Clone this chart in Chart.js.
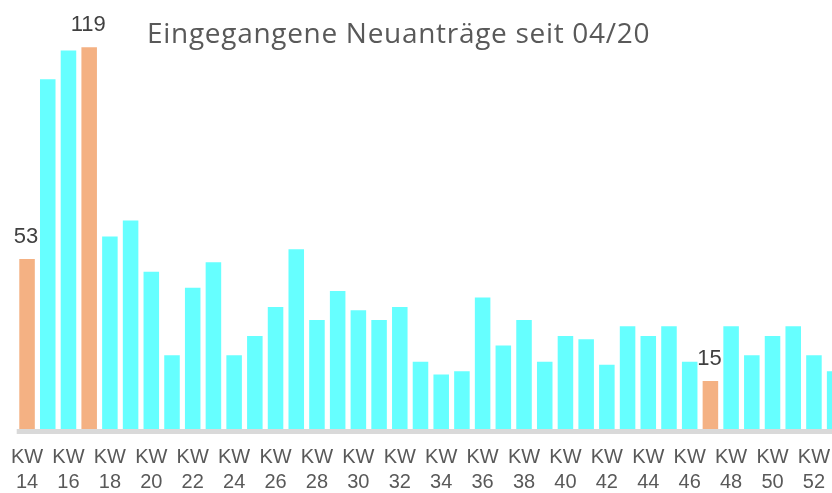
<!DOCTYPE html>
<html>
<head>
<meta charset="utf-8">
<script src="https://cdn.jsdelivr.net/npm/chart.js@4.4.0/dist/chart.umd.min.js"></script>
<style>
    html, body { margin: 0; padding: 0; background: #fff; overflow: hidden; }
    #wrap { position: relative; width: 832px; height: 493px; overflow: hidden; }
    #box { position: absolute; left: 0; top: 0; width: 845px; height: 493px; }
    #title {
        position: absolute; left: 147px; top: 18px;
        font: 28px/1 'Open Sans', sans-serif; color: #595959;
        letter-spacing: 0.7px; white-space: nowrap;
    }
</style>
</head>
<body>
<div id="wrap">
    <div id="box"><canvas id="chart"></canvas></div>
    <div id="title">Eingegangene Neuanträge seit 04/20</div>
</div>
<script>
// Kalenderwochen 14-53
const weeks = ['14', '15', '16', '17', '18', '19', '20', '21', '22', '23',
    '24', '25', '26', '27', '28', '29', '30', '31', '32', '33',
    '34', '35', '36', '37', '38', '39', '40', '41', '42', '43',
    '44', '45', '46', '47', '48', '49', '50', '51', '52', '53'];
const neuantraege = [53, 109, 118, 119, 60, 65, 49, 23, 44, 52,
    23, 29, 38, 56, 34, 43, 37, 34, 38, 21,
    17, 18, 41, 26, 34, 21, 29, 28, 20, 32,
    29, 32, 21, 15, 32, 23, 29, 32, 23, 18];
// weeks that get the orange bar and a value label
const markedWeeks = ['14', '17', '47'];

const cyan = '#66FFFF';
const orange = '#F4B183';

// grey base line under the bars
const baseLine = {
    id: 'baseLine',
    beforeDatasetsDraw(chart) {
        const { ctx, chartArea } = chart;
        ctx.save();
        ctx.fillStyle = '#D9D9D9';
        ctx.fillRect(chartArea.left, chartArea.bottom, chartArea.right - chartArea.left, 5);
        ctx.restore();
    }
};

// value labels above the marked bars
const valueLabels = {
    id: 'valueLabels',
    afterDatasetsDraw(chart) {
        const { ctx } = chart;
        const meta = chart.getDatasetMeta(0);
        ctx.save();
        ctx.font = '22px "Liberation Sans", Arial, sans-serif';
        ctx.fillStyle = '#404040';
        ctx.textAlign = 'center';
        ctx.textBaseline = 'bottom';
        meta.data.forEach((bar, i) => {
            if (!markedWeeks.includes(weeks[i])) return;
            ctx.fillText(String(neuantraege[i]), bar.x - 1, bar.y - 11);
        });
        ctx.restore();
    }
};

new Chart(document.getElementById('chart'), {
    type: 'bar',
    data: {
        labels: weeks.map(w => 'KW ' + w),
        datasets: [{
            data: neuantraege,
            backgroundColor: weeks.map(w => markedWeeks.includes(w) ? orange : cyan),
            barPercentage: 0.75,
            categoryPercentage: 1
        }]
    },
    options: {
        responsive: true,
        maintainAspectRatio: false,
        animation: false,
        layout: { padding: { left: 16.7, right: 0, top: 12, bottom: 0 } },
        plugins: {
            legend: { display: false },
            title: { display: false },
            tooltip: { enabled: false }
        },
        scales: {
            y: {
                display: false,
                min: 0,
                max: 130
            },
            x: {
                grid: { display: false },
                border: { display: false },
                afterFit: scale => { scale.height = 64; },
                ticks: {
                    autoSkip: false,
                    maxRotation: 0,
                    minRotation: 0,
                    padding: 8,
                    color: '#595959',
                    font: { family: '"Liberation Sans", Arial, sans-serif', size: 20, lineHeight: 1.25 },
                    callback: (val, i) => i % 2 === 0 ? ['KW', weeks[i]] : ''
                }
            }
        }
    },
    plugins: [baseLine, valueLabels]
});
</script>
</body>
</html>
